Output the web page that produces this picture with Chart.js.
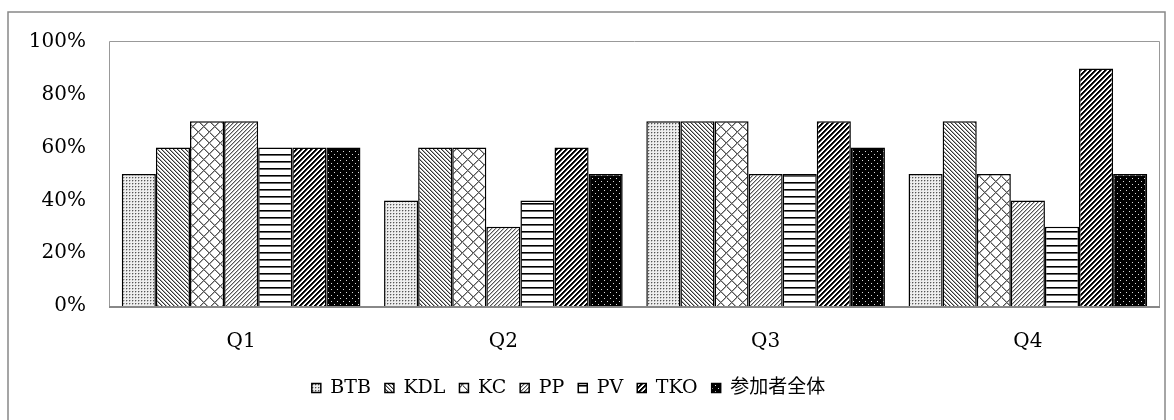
<!DOCTYPE html>
<html>
<head>
<meta charset="utf-8">
<script src="https://cdn.jsdelivr.net/npm/chart.js@4"></script>
<style>
  html, body { margin: 0; padding: 0; background: #fff; }
  #wrap { width: 1174px; height: 420px; position: relative; }
</style>
</head>
<body>
<div id="wrap"><canvas id="grafico" width="1174" height="420"></canvas></div>
<script>
// categorias y series
var categorias = ["Q1", "Q2", "Q3", "Q4"];
var nombres = ["BTB", "KDL", "KC", "PP", "PV", "TKO", "参加者全体"];

var BTB = [50, 40, 70, 50];
var KDL = [60, 60, 70, 70];
var KC = [70, 60, 70, 50];
var PP = [70, 30, 50, 40];
var PV = [60, 40, 50, 30];
var TKO = [60, 60, 70, 90];
var Total = [60, 50, 60, 50];

var ticksY = [0, 20, 40, 60, 80, 100];

// tramas (patterns) en blanco y negro
function trama(w, h, fondo, dibujar) {
  var c = document.createElement("canvas");
  c.width = w;
  c.height = h;
  var g = c.getContext("2d");
  g.fillStyle = fondo;
  g.fillRect(0, 0, w, h);
  var px = function (x, y, col) {
    g.fillStyle = col;
    g.fillRect(x, y, 1, 1);
  };
  dibujar(px, g);
  return g.createPattern(c, "repeat");
}

var tramas = [
  // BTB puntos finos
  trama(3, 3, "#eee", function (px) {
    px(0, 0, "#555");
    px(1, 0, "#bbb");
    px(0, 1, "#bbb");
  }),
  // KDL diagonal "\"
  trama(4, 4, "#fff", function (px) {
    for (var i = 0; i < 4; i++) {
      px(i, i, "#333");
      px((i + 1) % 4, i, "#aaa");
    }
  }),
  // KC rombos
  trama(11, 11, "#fff", function (px) {
    for (var i = 0; i < 11; i++) {
      px(i, i, "#555");
      px((i + 1) % 11, i, "#aaa");
      px(10 - i, i, "#555");
      px((11 - i) % 11, i, "#aaa");
    }
  }),
  // PP diagonal "/" gris
  trama(4, 4, "#fff", function (px) {
    for (var i = 0; i < 4; i++) {
      px(3 - i, i, "#555");
      px((4 - i) % 4, i, "#bbb");
    }
  }),
  // PV horizontales
  trama(4, 7, "#fff", function (px, g) {
    g.fillStyle = "#000";
    g.fillRect(0, 0, 4, 1);
    g.fillStyle = "#666";
    g.fillRect(0, 1, 4, 1);
  }),
  // TKO diagonal "/" oscura
  trama(5, 5, "#fff", function (px) {
    for (var i = 0; i < 5; i++) {
      px(4 - i, i, "#000");
      px((5 - i) % 5, i, "#000");
      px((6 - i) % 5, i, "#555");
    }
  }),
  // total: negro con puntos
  trama(6, 6, "#000", function (px) {
    px(1, 1, "#ddd");
    px(4, 4, "#ddd");
  }),
];

var series = [BTB, KDL, KC, PP, PV, TKO, Total];
var datasets = [];
for (var i = 0; i < series.length; i++) {
  datasets.push({
    label: nombres[i],
    data: series[i],
    backgroundColor: tramas[i],
    borderColor: "#000",
    borderWidth: 1.5,
    barPercentage: 1.0,
    categoryPercentage: 0.91,
  });
}

// marco exterior, borde del area de trazado y leyenda un poco a la izquierda
var marcos = {
  id: "marcos",
  afterLayout: function (chart) {
    chart.legend.left -= 11;
    chart.legend.right -= 11;
  },
  beforeDraw: function (chart) {
    var ctx = chart.ctx;
    ctx.save();
    ctx.fillStyle = "#fff";
    ctx.fillRect(0, 0, chart.width, chart.height);
    ctx.strokeStyle = "#888";
    ctx.lineWidth = 1.5;
    ctx.strokeRect(8, 12, 1157, 420);
    ctx.restore();
  },
  afterDatasetsDraw: function (chart) {
    var a = chart.chartArea;
    var ctx = chart.ctx;
    ctx.save();
    ctx.strokeStyle = "#999";
    ctx.lineWidth = 1;
    ctx.beginPath();
    ctx.moveTo(a.left - 0.5, a.bottom);
    ctx.lineTo(a.left - 0.5, a.top - 0.5);
    ctx.lineTo(a.right + 0.5, a.top - 0.5);
    ctx.lineTo(a.right + 0.5, a.bottom);
    ctx.stroke();
    ctx.strokeStyle = "#888";
    ctx.lineWidth = 2;
    ctx.beginPath();
    ctx.moveTo(a.left - 1, a.bottom + 1);
    ctx.lineTo(a.right + 1, a.bottom + 1);
    ctx.stroke();
    ctx.restore();
  },
};

Chart.defaults.font.family = "'DejaVu Serif', 'Noto Sans CJK JP', serif";
Chart.defaults.font.size = 20;
Chart.defaults.color = "#000";

new Chart(document.getElementById("grafico"), {
  type: "bar",
  data: { labels: categorias, datasets: datasets },
  plugins: [marcos],
  options: {
    responsive: false,
    animation: false,
    layout: { padding: { top: 42, right: 15, bottom: 12.5, left: 0 } },
    scales: {
      x: {
        grid: { display: false, drawTicks: false },
        border: { display: false },
        ticks: { padding: 24 },
        afterFit: function (s) { s.height = 58.5; },
      },
      y: {
        min: 0,
        max: 100,
        afterBuildTicks: function (s) {
          s.ticks = ticksY.map(function (v) { return { value: v }; });
        },
        afterFit: function (s) { s.width = 110; },
        grid: { display: false, drawTicks: false },
        border: { display: false },
        ticks: {
          padding: 24,
          callback: function (v) { return v + "%"; },
        },
      },
    },
    plugins: {
      tooltip: { enabled: false },
      legend: {
        position: "bottom",
        labels: {
          boxWidth: 9,
          boxHeight: 9,
          padding: 14,
          font: { size: 19 },
        },
      },
    },
  },
});
</script>
</body>
</html>
